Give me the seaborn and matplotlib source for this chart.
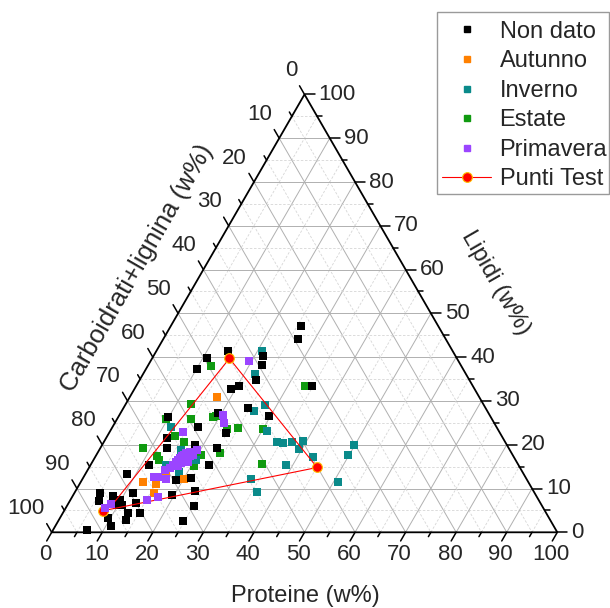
import numpy as np
import pandas as pd
import matplotlib
matplotlib.use("Agg")
import matplotlib.pyplot as plt
from matplotlib.lines import Line2D
from matplotlib.patches import Rectangle
import seaborn as sns

# values: Proteine and Lipidi in w%, Carboidrati+lignina is the remainder
non_dato_P = [14.1, 10.8, 10.1, 19.2, 20.3, 9.9, 17.0, 12.0, 18.3, 13.3, 19.2, 23.2, 23.1, 11.6, 23.5,
              8.3, 18.6, 21.5, 23.6, 19.6, 5.0, 7.9, 5.8, 9.8, 11.6, 13.2, 9.8, 10.9, 25.1, 12.8,
              15.4, 9.6, 13.3, 24.7, 11.0, 6.7, 26.6, 25.7, 21.6, 22.4, 23.0, 34.7, 24.7, 29.7]
non_dato_L = [41.5, 39.8, 37.2, 32.7, 33.3, 26.4, 24.0, 21.5, 19.9, 19.2, 27.2, 22.7, 19.2, 15.4, 15.3,
              13.3, 11.9, 12.3, 9.5, 8.5, 9.0, 8.4, 7.2, 7.4, 8.9, 6.8, 6.2, 6.2, 6.1, 4.5,
              4.3, 3.2, 2.8, 2.6, 1.5, 0.5, 44.1, 47.1, 40.3, 38.2, 34.8, 33.5, 28.3, 26.6]

autunno_P = [17.2, 12.2, 15.1, 15.8, 20.1, 15.7, 19.0]
autunno_L = [30.8, 11.6, 11.0, 8.9, 12.1, 13.8, 17.9]

inverno_P = [20.8, 22.2, 27.7, 26.3, 30.9, 34.3, 35.5, 37.1, 39.3, 39.5, 43.0, 49.9, 49.8, 38.6, 33.3,
             35.9, 50.9, 11.5, 15.0, 16.1, 18.3, 20.3, 17.9]
inverno_L = [41.5, 36.1, 29.1, 27.6, 23.2, 20.6, 20.3, 20.7, 20.9, 19.0, 17.3, 19.9, 17.7, 15.4, 12.2,
             9.3, 11.4, 24.0, 15.4, 18.8, 13.8, 16.5, 18.2]

estate_P = [12.6, 12.9, 9.8, 14.7, 18.8, 19.2, 22.9, 24.9, 30.1, 13.3, 15.9, 8.4, 12.0, 13.0, 24.2,
            20.6, 20.6, 33.5, 33.7]
estate_L = [37.9, 29.3, 25.8, 25.9, 26.3, 26.6, 23.7, 23.8, 23.5, 22.1, 20.6, 19.3, 17.5, 16.5, 18.2,
            17.7, 15.1, 33.3, 15.6]

primavera_P = [19.5, 20.5, 21.6, 14.6, 19.4, 13.8, 14.7, 16.6, 17.1, 15.1, 8.4, 7.8, 16.3, 16.6, 16.8,
               16.9, 17.1, 17.4, 17.6, 18.5, 18.7, 18.3, 17.7, 17.5, 18.3, 19.1, 16.9, 19.0, 16.1, 15.3]
primavera_L = [39.1, 26.8, 25.0, 22.8, 18.7, 12.7, 12.7, 12.1, 8.0, 7.4, 6.5, 5.6, 15.4, 16.1, 16.5,
               17.0, 17.4, 17.7, 18.1, 17.0, 17.4, 16.3, 15.8, 15.1, 18.3, 17.7, 15.1, 16.1, 14.7, 14.2]

test_P = [7.6, 8.8, 15.3, 45.1]
test_L = [4.9, 6.1, 39.7, 14.8]
test_path = [0, 1, 2, 3, 0]

series_names = ["Non dato", "Autunno", "Inverno", "Estate", "Primavera"]
series_colors = {"Non dato": "#000000", "Autunno": "#FF8000", "Inverno": "#0A8A8A",
                 "Estate": "#109A10", "Primavera": "#9B45FF"}

tick_values = list(range(0, 101, 10))

H = np.sqrt(3) / 2
PX = 505.6  # pixels per unit side of the triangle


def tern_xy(p, l):
    p = np.asarray(p, dtype=float) / 100
    l = np.asarray(l, dtype=float) / 100
    return p + l / 2, l * H


def px(v):
    return v / PX


sns.set_style("white")
plt.rcParams["font.family"] = ["Liberation Sans", "DejaVu Sans"]

fig = plt.figure(figsize=(6.1, 6.08), dpi=100)
ax = fig.add_axes([0, 0, 1, 1])
ax.set_xlim(-51.7 / PX, (610 - 51.7) / PX)
ax.set_ylim((532.3 - 608) / PX, 532.3 / PX)
ax.axis("off")

# grid: major every 10 solid, minor every 5 dashed
for k in range(5, 100, 5):
    major = k % 10 == 0
    kw = dict(color="#B0B0B0", lw=0.7, ls="-") if major else dict(color="#D6D6D6", lw=0.6, ls=(0, (3, 2)))
    for a, b in [((k, 0), (k, 100 - k)),            # constant Proteine
                 ((0, k), (100 - k, k)),            # constant Lipidi
                 ((0, 100 - k), (100 - k, 0))]:     # constant Carboidrati
        x, y = tern_xy([a[0], b[0]], [a[1], b[1]])
        ax.plot(x, y, zorder=1, **kw)

# triangle frame
fx, fy = tern_xy([0, 100, 0, 0], [0, 0, 100, 0])
ax.plot(fx, fy, color="black", lw=1.3, zorder=2, solid_joinstyle="miter")

# ticks and tick labels
for k in range(0, 101, 5):
    ln = px(10) if k % 10 == 0 else px(5)
    x0, y0 = tern_xy(k, 0)
    ax.plot([x0, x0 - 0.5 * ln], [y0, y0 - H * ln], color="black", lw=1.1, zorder=2)
    x1, y1 = tern_xy(100 - k, k)
    ax.plot([x1, x1 + ln], [y1, y1], color="black", lw=1.1, zorder=2)
    x2, y2 = tern_xy(0, 100 - k)
    ax.plot([x2, x2 - 0.5 * ln], [y2, y2 + H * ln], color="black", lw=1.1, zorder=2)

for k in tick_values:
    x0, y0 = tern_xy(k, 0)
    ax.text(x0 - px(6), y0 - px(22), str(k), ha="center", va="center", fontsize=16)
    x1, y1 = tern_xy(100 - k, k)
    ax.text(x1 + px(14), y1, str(k), ha="left", va="center", fontsize=16)
    x2, y2 = tern_xy(0, 100 - k)
    ax.text(x2 - px(7), y2 + px(24), str(k), ha="right", va="center", fontsize=16)

# axis titles
ax.text((305 - 51.7) / PX, (532.3 - 596) / PX, "Proteine (w%)", ha="center", va="center", fontsize=17)
ax.text((496 - 51.7) / PX, (532.3 - 283) / PX, "Lipidi (w%)", ha="center", va="center",
        fontsize=17, rotation=-60, rotation_mode="anchor")
ax.text((137 - 51.7) / PX, (532.3 - 268) / PX, "Carboidrati+lignina (w%)", ha="center", va="center",
        fontsize=18.5, rotation=60, rotation_mode="anchor")

# scatter series
frames = []
for name, P, L in [("Non dato", non_dato_P, non_dato_L), ("Autunno", autunno_P, autunno_L),
                   ("Inverno", inverno_P, inverno_L), ("Estate", estate_P, estate_L),
                   ("Primavera", primavera_P, primavera_L)]:
    x, y = tern_xy(P, L)
    frames.append(pd.DataFrame({"x": x, "y": y, "serie": name}))
df = pd.concat(frames, ignore_index=True)

draw_order = ["Estate", "Inverno", "Autunno", "Non dato"]
for i, name in enumerate(draw_order):
    sub = df[df["serie"] == name]
    sns.scatterplot(data=sub, x="x", y="y", color=series_colors[name], marker="s", s=30,
                    linewidth=0, ax=ax, zorder=3 + i, legend=False)

tx, ty = tern_xy([test_P[i] for i in test_path], [test_L[i] for i in test_path])
ax.plot(tx, ty, color="red", lw=0.8, marker="o", ms=7, mfc="red", mec="#FFC000", mew=0.8,
        markevery=[0, 2, 3], zorder=8)

sub = df[df["serie"] == "Primavera"]
sns.scatterplot(data=sub, x="x", y="y", color=series_colors["Primavera"], marker="s", s=30,
                linewidth=0, ax=ax, zorder=9, legend=False)
ax.set_xlabel("")
ax.set_ylabel("")
ax.set_xlim(-51.7 / PX, (610 - 51.7) / PX)
ax.set_ylim((532.3 - 608) / PX, 532.3 / PX)

# legend with a hand-placed frame
ax.add_patch(Rectangle((437 / 610, 1 - 194 / 608), 172 / 610, 182 / 608,
                       transform=fig.transFigure, facecolor="white", edgecolor="#9A9A9A",
                       lw=1.0, zorder=10, clip_on=False))
handles = [Line2D([], [], ls="none", marker="s", ms=3.8, color=series_colors[n], mec=series_colors[n])
           for n in series_names]
handles.append(Line2D([], [], color="red", lw=0.8, marker="o", ms=7, mfc="red", mec="#FFC000", mew=0.8))
leg = ax.legend(handles, series_names + ["Punti Test"], loc="upper left",
                bbox_to_anchor=(437 / 610, 1 - 16 / 608), bbox_transform=fig.transFigure,
                fontsize=17, frameon=False, borderaxespad=0, borderpad=0.2,
                labelspacing=0.32, handlelength=2.1, handletextpad=0.35)
leg.set_zorder(11)

fig.savefig("out.png", dpi=100)
